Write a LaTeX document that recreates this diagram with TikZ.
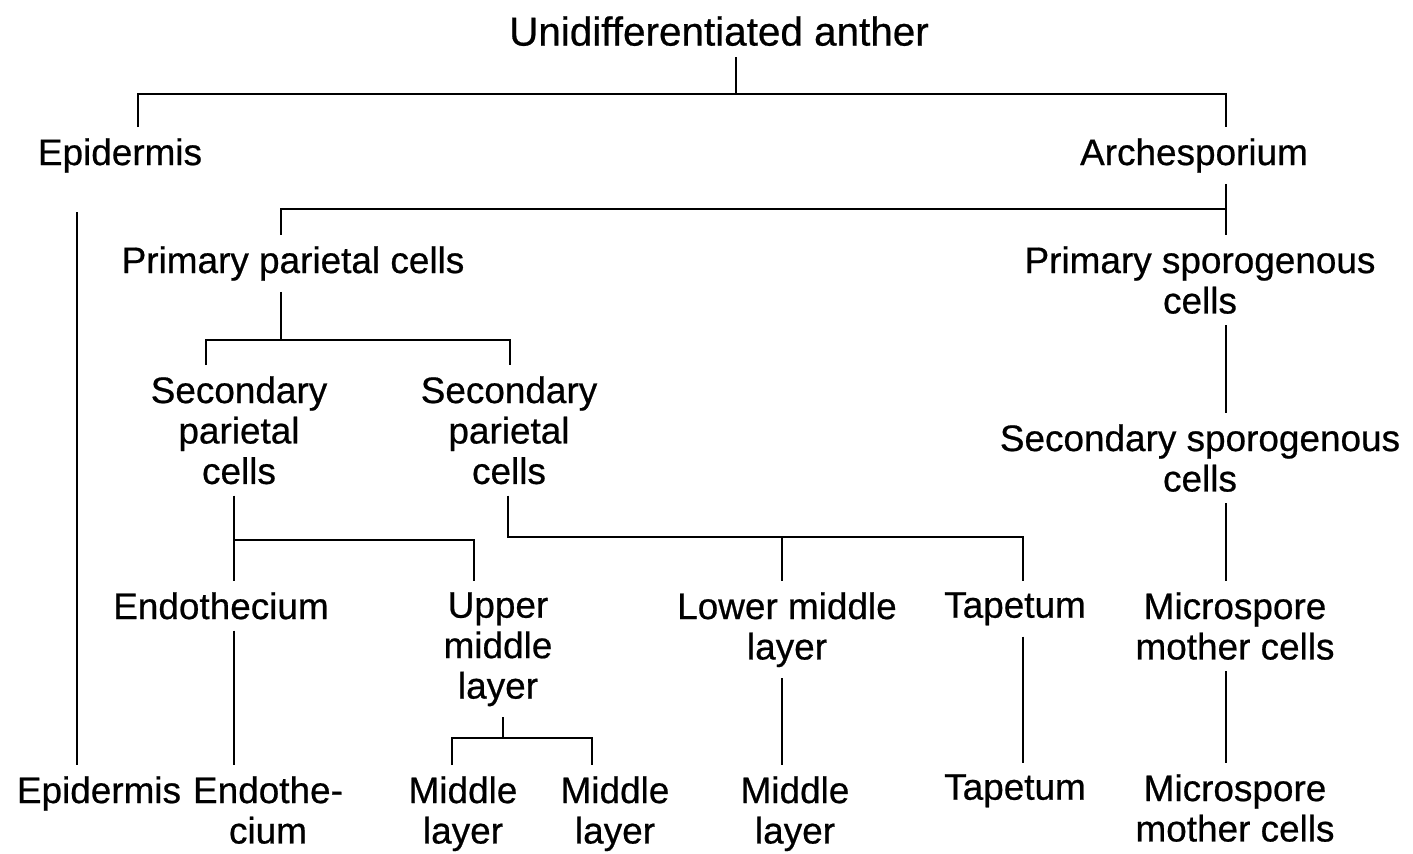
\documentclass[tikz,border=0pt]{standalone}
\usepackage{fontspec}
\setmainfont{Liberation Sans}[FakeBold=0.6]
\begin{document}
\begin{tikzpicture}[
  x=0.01cm, y=-0.01cm,
  stage/.style={anchor=north, align=center, inner sep=3pt,
    font=\fontsize{10.5}{11.5}\selectfont},
  link/.style={line width=0.8pt}
]
\useasboundingbox (0,0) rectangle (1413,853);

% cell lineages
\node[stage, font=\fontsize{11.5}{12}\selectfont] (anther) at (719,5) {Unidifferentiated anther};
\node[stage] (epiTop) at (120,127) {Epidermis};
\node[stage] (arch) at (1194,127) {Archesporium};
\node[stage] (ppc) at (293,235) {Primary parietal cells};
\node[stage] (psc) at (1200,235) {Primary sporogenous\\cells};
\node[stage] (spcA) at (239,365) {Secondary\\parietal\\cells};
\node[stage] (spcB) at (509,365) {Secondary\\parietal\\cells};
\node[stage] (ssc) at (1200,413) {Secondary sporogenous\\cells};
\node[stage] (endoTop) at (221,581) {Endothecium};
\node[stage] (uml) at (498,581) {Upper\\middle\\layer};
\node[stage] (lml) at (787,581) {Lower middle\\layer};
\node[stage] (tapTop) at (1015,581) {Tapetum};
\node[stage] (mmcTop) at (1235,581) {Microspore\\mother cells};
\node[stage] (epiBot) at (99,765) {Epidermis};
\node[stage] (endoBot) at (268,765) {Endothe-\\cium};
\node[stage] (midA) at (463,765) {Middle\\layer};
\node[stage] (midB) at (615,765) {Middle\\layer};
\node[stage] (midC) at (795,765) {Middle\\layer};
\node[stage] (tapBot) at (1015,763) {Tapetum};
\node[stage] (mmcBot) at (1235,763) {Microspore\\mother cells};

% branch points
\coordinate (jA) at (736,94);
\coordinate (jAl) at (138,94);
\coordinate (jAr) at (1226,94);
\coordinate (jB) at (1226,209);
\coordinate (jBl) at (281,209);
\coordinate (jC) at (281,340);
\coordinate (jCl) at (206,340);
\coordinate (jCr) at (510,340);
\coordinate (jD) at (234,540);
\coordinate (jDr) at (474,540);
\coordinate (jE) at (508,537);
\coordinate (jEm) at (782,537);
\coordinate (jEr) at (1023,537);
\coordinate (jF) at (503,738);
\coordinate (jFl) at (452,738);
\coordinate (jFr) at (592,738);
\coordinate (epiLine) at (77,480);

% connectors
\draw[link] (anther.south -| jA) -- (jA);
\draw[link] (epiTop.north -| jAl) |- (jAr) -- (arch.north -| jAr);
\draw[link] (arch.south -| jB) -- (psc.north -| jB);
\draw[link] (jB) -- (jBl) -- (ppc.north -| jBl);
\draw[link, shorten <=8pt] (epiTop.south -| epiLine) -- (epiBot.north -| epiLine);
\draw[link] (ppc.south -| jC) -- (jC);
\draw[link] (spcA.north -| jCl) |- (jCr) -- (spcB.north -| jCr);
\draw[link] (psc.south -| jB) -- (ssc.north -| jB);
\draw[link] (ssc.south -| jB) -- (mmcTop.north -| jB);
\draw[link] (spcA.south -| jD) -- (endoTop.north -| jD);
\draw[link] (jD) -- (jDr) -- (uml.north -| jDr);
\draw[link] (spcB.south -| jE) -- (jE) -- (jEr) -- (tapTop.north -| jEr);
\draw[link] (jEm) -- (lml.north -| jEm);
\draw[link] (endoTop.south -| jD) -- (endoBot.north -| jD);
\draw[link] (uml.south -| jF) -- (jF);
\draw[link] (midA.north -| jFl) |- (jFr) -- (midB.north -| jFr);
\draw[link] (lml.south -| jEm) -- (midC.north -| jEm);
\draw[link] (tapTop.south -| jEr) -- (tapBot.north -| jEr);
\draw[link] (mmcTop.south -| jB) -- (mmcBot.north -| jB);
\end{tikzpicture}
\end{document}
